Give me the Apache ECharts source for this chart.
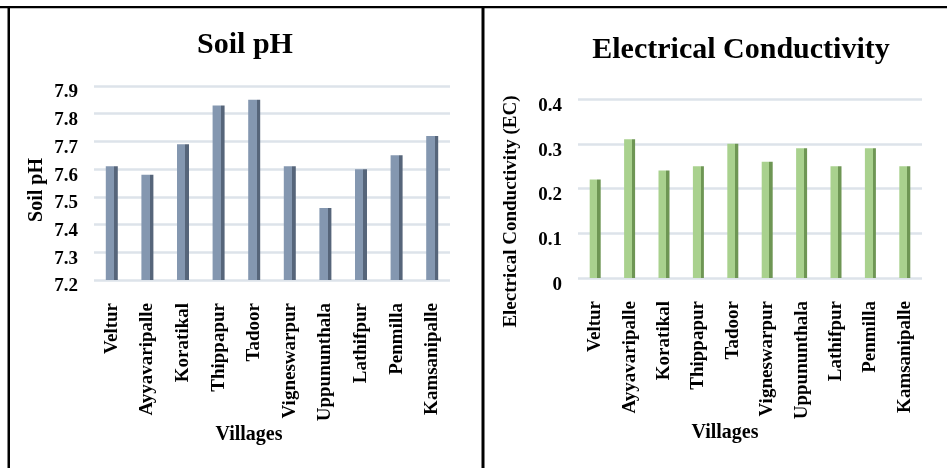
<!DOCTYPE html>
<html>
<head>
<meta charset="utf-8">
<script src="https://cdn.jsdelivr.net/npm/echarts@6/dist/echarts.min.js"></script>
<style>
html,body{margin:0;padding:0;background:#fff;}
#c{width:947px;height:468px;}
</style>
</head>
<body>
<div id="c"></div>
<script>
var villages = ['Veltur','Ayyavaripalle','Koratikal','Thippapur','Tadoor','Vigneswarpur','Uppununthala','Lathifpur','Penmilla','Kamsanipalle'];
var soilPH = [7.61, 7.58, 7.69, 7.83, 7.85, 7.61, 7.46, 7.60, 7.65, 7.72];
var ec = [0.22, 0.31, 0.24, 0.25, 0.30, 0.26, 0.29, 0.25, 0.29, 0.25];

var FONT = "'Liberation Serif','Times New Roman',serif";
function barGrad(front, side){
  return new echarts.graphic.LinearGradient(0,0,1,0,[
    {offset:0,color:front},{offset:0.7,color:front},{offset:0.7,color:side},{offset:1,color:side}
  ]);
}
var labelStyle = {fontFamily:FONT, fontWeight:'bold', fontSize:19, color:'#000'};
var chart = echarts.init(document.getElementById('c'));
chart.setOption({
  animation:false,
  backgroundColor:'#fff',
  title:[
    {text:'Soil pH', left:240, top:25, textAlign:'center', textStyle:{fontFamily:FONT,fontWeight:'bold',fontSize:30,color:'#000'}},
    {text:'Electrical Conductivity', left:736, top:30, textAlign:'center', textStyle:{fontFamily:FONT,fontWeight:'bold',fontSize:30,color:'#000'}}
  ],
  grid:[
    {left:94, right:947-450, top:86, bottom:188},
    {left:578, right:25, top:99, bottom:190}
  ],
  xAxis:[
    {type:'category', gridIndex:0, data:villages,
     axisLine:{show:false}, axisTick:{show:false},
     axisLabel:Object.assign({rotate:90, margin:23, interval:0}, labelStyle),
     name:'Villages', nameLocation:'middle', nameGap:139,
     nameTextStyle:{fontFamily:FONT,fontWeight:'bold',fontSize:20,color:'#000',padding:[0,46,0,0]}},
    {type:'category', gridIndex:1, data:villages,
     axisLine:{show:false}, axisTick:{show:false},
     axisLabel:Object.assign({rotate:90, margin:23, interval:0}, labelStyle),
     name:'Villages', nameLocation:'middle', nameGap:142,
     nameTextStyle:{fontFamily:FONT,fontWeight:'bold',fontSize:20,color:'#000',padding:[0,50,0,0]}}
  ],
  yAxis:[
    {type:'value', gridIndex:0, min:7.2, max:7.9, interval:0.1,
     axisLine:{show:false}, axisTick:{show:false},
     axisLabel:Object.assign({margin:16, verticalAlign:'top', lineHeight:13, formatter:function(v){return v.toFixed(1);}}, labelStyle),
     splitLine:{lineStyle:{color:'#dde3ea', width:2.5}},
     name:'Soil pH', nameLocation:'middle', nameGap:47, nameRotate:90,
     nameTextStyle:{fontFamily:FONT,fontWeight:'bold',fontSize:20,color:'#000',padding:[0,14,0,0]}},
    {type:'value', gridIndex:1, min:0, max:0.4, interval:0.1,
     axisLine:{show:false}, axisTick:{show:false},
     axisLabel:Object.assign({margin:16, verticalAlign:'top', lineHeight:14, formatter:function(v){return v===0?'0':v.toFixed(1);}}, labelStyle),
     splitLine:{lineStyle:{color:'#dde3ea', width:2.5}},
     name:'Electrical Conductivity (EC)', nameLocation:'middle', nameGap:57, nameRotate:90,
     nameTextStyle:{fontFamily:FONT,fontWeight:'bold',fontSize:19,color:'#000',padding:[0,46,0,0]}}
  ],
  series:[
    {type:'bar', xAxisIndex:0, yAxisIndex:0, data:soilPH, barWidth:12,
     itemStyle:{color:barGrad('#8497b0','#56657a')}},
    {type:'bar', xAxisIndex:1, yAxisIndex:1, data:ec, barWidth:11,
     itemStyle:{color:barGrad('#a9d18e','#6e9654')}}
  ],
  graphic:[
    {type:'rect', shape:{x:0,y:6,width:947,height:2.2}, style:{fill:'#000'}, z:100},
    {type:'rect', shape:{x:7.5,y:6,width:2.5,height:470}, style:{fill:'#000'}, z:100},
    {type:'rect', shape:{x:481.5,y:6,width:3,height:470}, style:{fill:'#000'}, z:100}
  ]
});
</script>
</body>
</html>
